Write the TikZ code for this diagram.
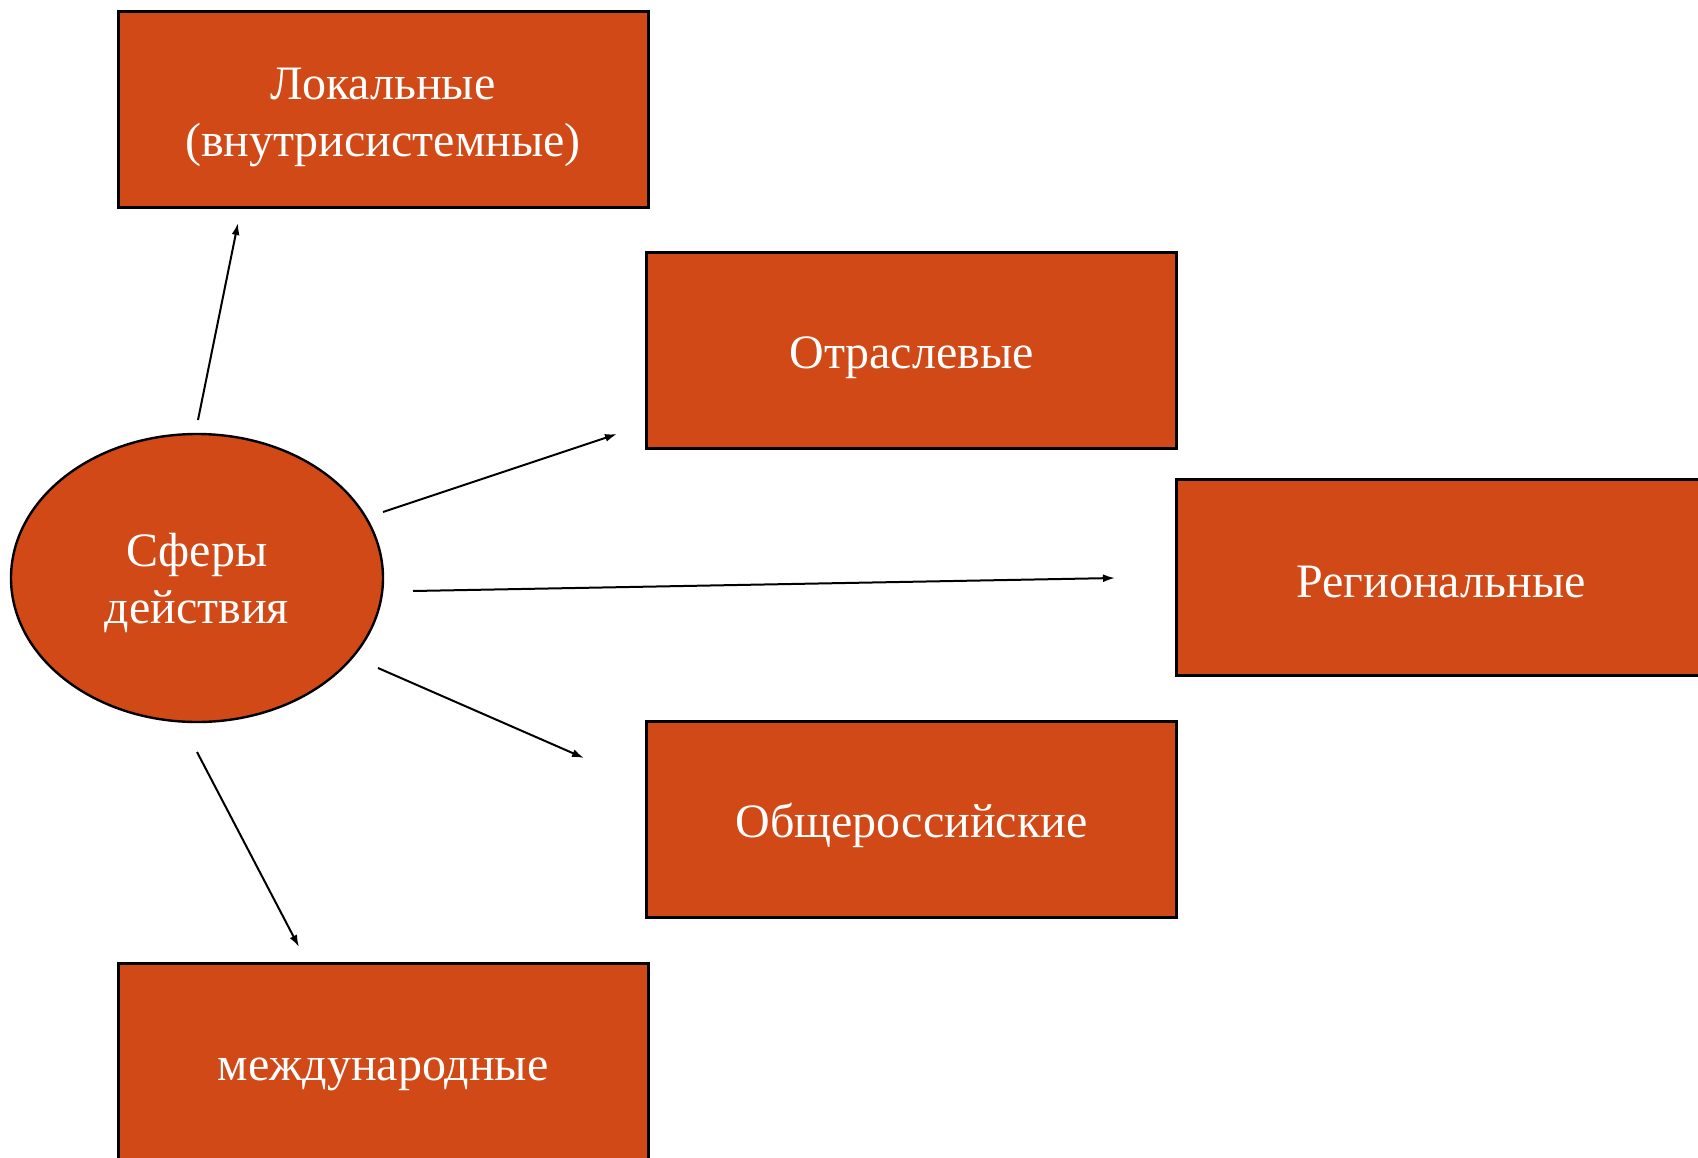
\documentclass[tikz,border=0pt]{standalone}
\usepackage{fontspec}
\setmainfont{Liberation Serif}
\usetikzlibrary{arrows.meta,shapes.geometric}
\definecolor{rust}{RGB}{209,73,23}

\begin{document}
\begin{tikzpicture}[x=0.5pt,y=-0.5pt,>={Latex[length=6pt,width=4pt]}]
		\tikzstyle{sphere}=[ellipse, draw=black, line width=1.2pt, fill=rust, text=white, minimum width=186pt, minimum height=144pt, align=center, text height=50pt, font=\fontsize{24}{28.5}\selectfont]
		\tikzstyle{level}=[rectangle, draw=black, line width=1.5pt, fill=rust, text=white, minimum width=265pt, minimum height=98pt, align=center, text height=24pt, font=\fontsize{24}{28.5}\selectfont]
		\tikzstyle{link}=[->, line width=1pt]

		\useasboundingbox (0,0) rectangle (1698,1157);
		\clip (0,0) rectangle (1698,1157);

		\node [sphere] (s) at (197,578) {Сферы\\действия};
		\node [level, text height=53pt] (lok) at (383,109) {Локальные\\(внутрисистемные)};
		\node [level] (otr) at (911.5,350) {Отраслевые};
		\node [level, text height=20pt] (reg) at (1441,577.5) {Региональные};
		\node [level] (obs) at (911.5,819) {Общероссийские};
		\node [level, minimum height=99pt] (mezh) at (383,1062) {международные};

		\coordinate (f1) at (198,420);  \coordinate (e1) at (238,223);
		\coordinate (f2) at (383,512);  \coordinate (e2) at (617,434);
		\coordinate (f3) at (413,591);  \coordinate (e3) at (1115,578);
		\coordinate (f4) at (378,668);  \coordinate (e4) at (584,758);
		\coordinate (f5) at (197,752);  \coordinate (e5) at (299,947);

		\draw [link] (f1) -- (e1);
		\draw [link] (f2) -- (e2);
		\draw [link] (f3) -- (e3);
		\draw [link] (f4) -- (e4);
		\draw [link] (f5) -- (e5);
	\end{tikzpicture}
\end{document}
